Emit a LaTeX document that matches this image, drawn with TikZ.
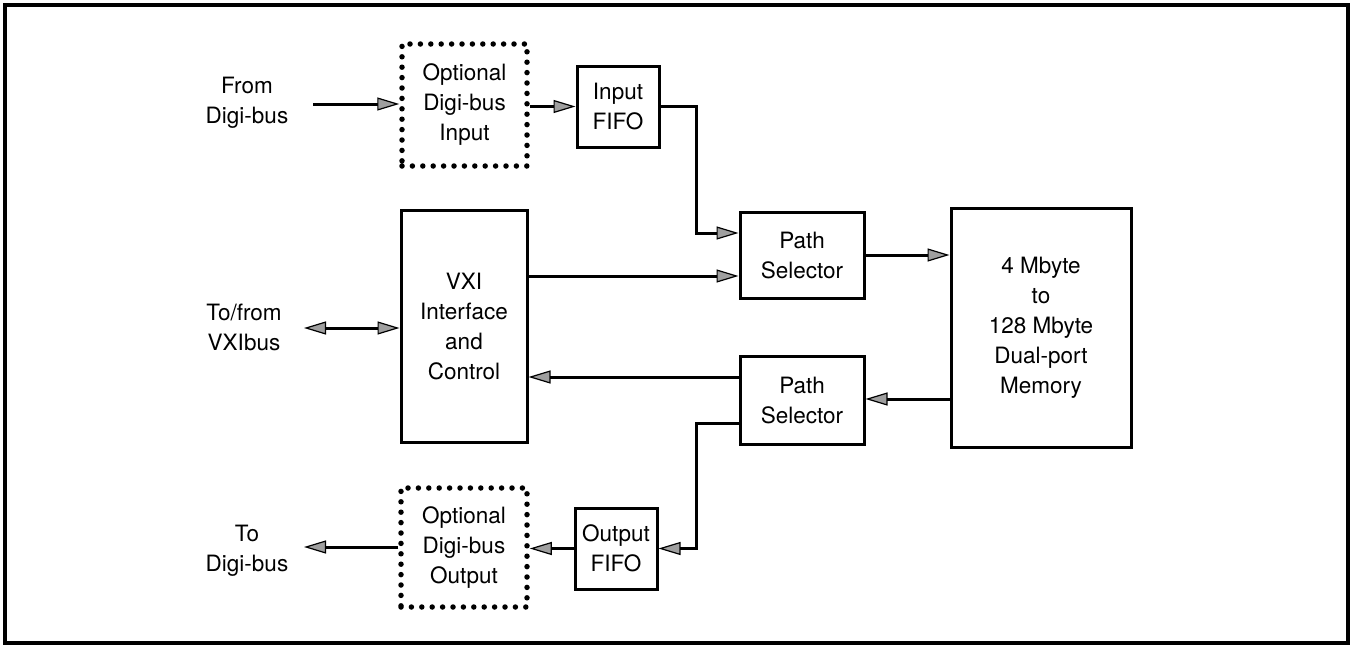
\documentclass[tikz,border=0pt]{standalone}
\usepackage{fontspec}
\setmainfont{TeX Gyre Heros}
\usetikzlibrary{arrows.meta}
\begin{document}
\begin{tikzpicture}[x=1pt,y=-1pt,
  font=\fontsize{22.5}{30}\selectfont,
  box/.style={draw=black,line width=3pt,align=center,inner sep=0pt},
  optbox/.style={draw=black,line width=5.5pt,line cap=round,dash pattern=on 0pt off 10.4pt,align=center,inner sep=0pt},
  lbl/.style={align=center,inner sep=0pt},
  head/.tip={Triangle[length=22pt,width=13pt,fill=gray!75,line width=1.2pt]},
  wire/.style={line width=3pt,draw=black},
  arr/.style={wire,-head},
  dblarr/.style={wire,head-head}]
\useasboundingbox (0,0) rectangle (1353,648);
% outer frame
\draw[line width=3.6pt] (5,5) rectangle (1348,643);

% blocks
\node[optbox,minimum width=125pt,minimum height=122pt] (inopt) at (464.5,105) {Optional\\Digi-bus\\Input};
\node[box,minimum width=82pt,minimum height=81pt] (infifo) at (618,106.5) {Input\\FIFO};
\node[box,minimum width=126pt,minimum height=232pt] (vxi) at (464,326) {VXI\\Interface\\and\\Control};
\node[box,minimum width=124pt,minimum height=86pt] (ps1) at (802,255) {Path\\Selector};
\node[box,minimum width=180pt,minimum height=239pt] (mem) at (1041,327.5) {4 Mbyte\\to\\128 Mbyte\\Dual-port\\Memory};
\node[box,minimum width=124pt,minimum height=88pt] (ps2) at (802,400) {Path\\Selector};
\node[box,minimum width=82pt,minimum height=81pt] (outfifo) at (616,548.5) {Output\\FIFO};
\node[optbox,minimum width=126pt,minimum height=119pt] (outopt) at (464,547.5) {Optional\\Digi-bus\\Output};

% external labels
\node[lbl] (fromdb) at (247,103) {From\\Digi-bus};
\node[lbl] (vxibus) at (244,327) {To/from\\VXIbus};
\node[lbl] (todb) at (247,551) {To\\Digi-bus};

\coordinate (inend) at (313,104);
\coordinate (vxiend) at (304,328);
\coordinate (outend) at (304,547);
\coordinate (bend) at (696,0);

% connectors
\draw[arr] (inend) -- (inend -| inopt.west);
\draw[arr] (inopt.east |- infifo.west) -- (infifo.west);
\draw[arr] (infifo.east) -| (bend |- 0,233) -- (ps1.west |- 0,233);
\draw[arr] (vxi.east |- 0,276) -- (ps1.west |- 0,276);
\draw[arr] (ps1.east) -- (mem.west |- ps1.east);
\draw[arr] (mem.west |- 0,399) -- (ps2.east |- 0,399);
\draw[arr] (ps2.west |- 0,377) -- (vxi.east |- 0,377);
\draw[arr] (ps2.west |- 0,423) -| (bend |- outfifo.east) -- (outfifo.east);
\draw[arr] (outfifo.west) -- (outopt.east |- outfifo.west);
\draw[arr] (outopt.west |- outend) -- (outend);
\draw[dblarr] (vxiend) -- (vxiend -| vxi.west);
\end{tikzpicture}
\end{document}
